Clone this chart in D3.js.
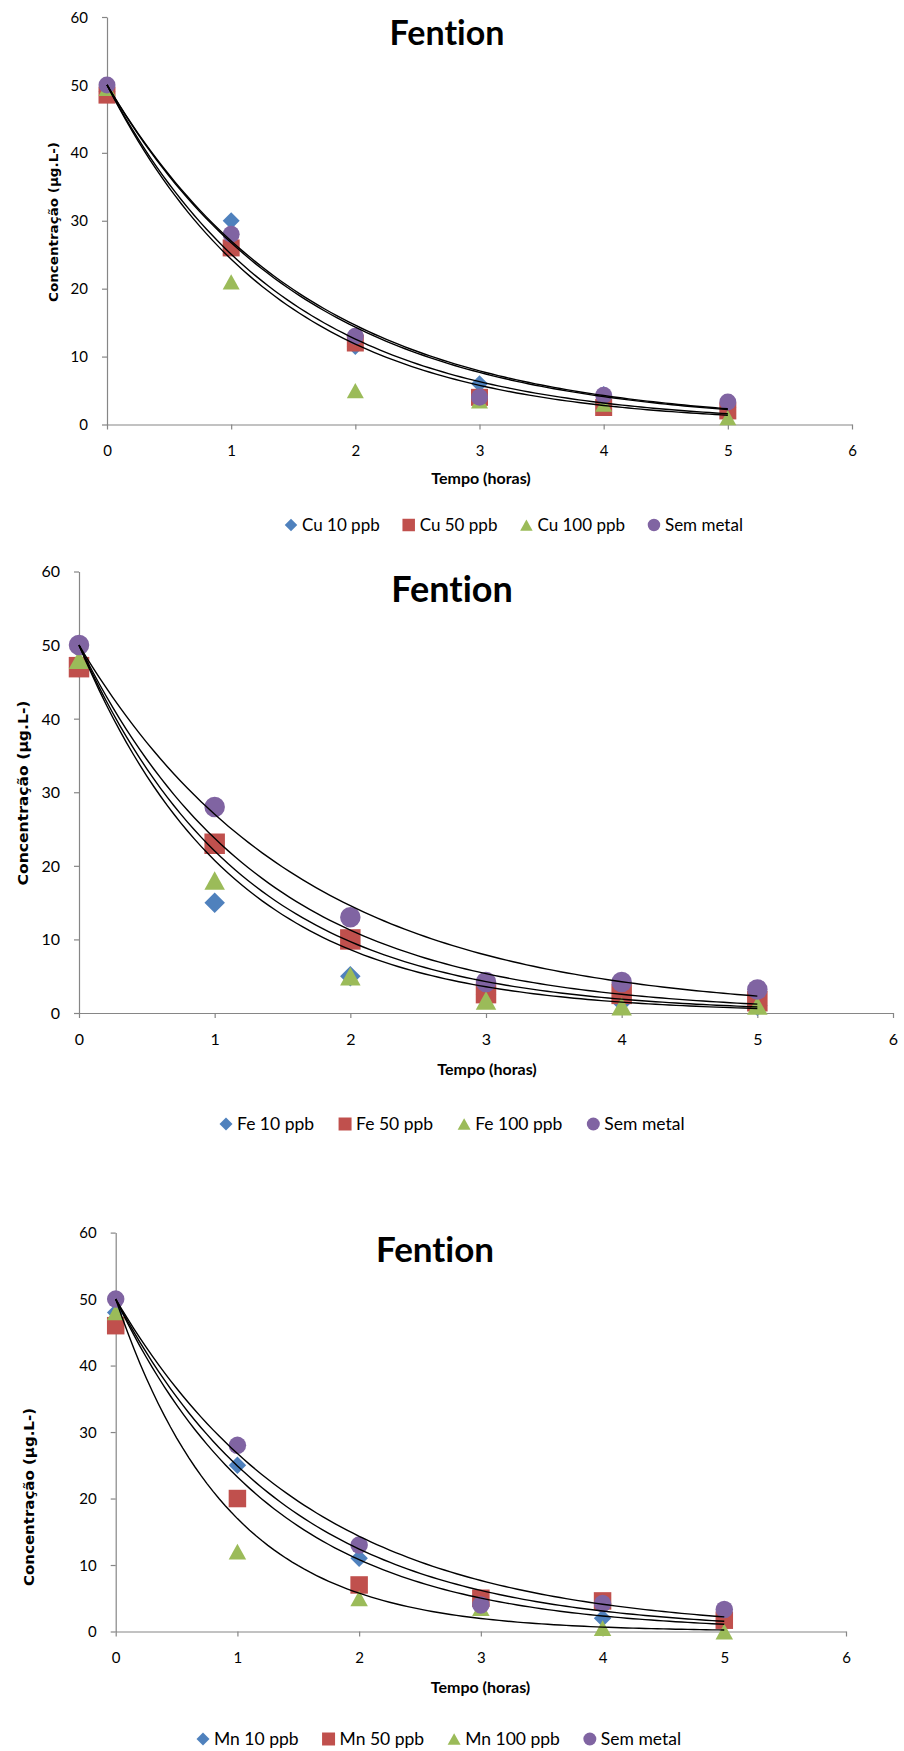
<!DOCTYPE html>
<html><head><meta charset="utf-8">
<script src="https://cdn.jsdelivr.net/npm/d3@7"></script>
<style>body{margin:0;background:#fff}svg{display:block}text{font-variant-ligatures:none;font-feature-settings:"liga" 0}</style>
</head><body><svg id="c" width="904" height="1751"></svg>
<script>
// ---------- data ----------
const times = [0, 1, 2, 3, 4, 5];
const xTicks = [0, 1, 2, 3, 4, 5, 6];
const yTicks = [0, 10, 20, 30, 40, 50, 60];
const chartTitle = "Fention";
const xTitle = "Tempo (horas)";
const yTitle = "Concentração (µg.L-)";

// Cu chart
const cuNames = ["Cu 10 ppb", "Cu 50 ppb", "Cu 100 ppb", "Sem metal"];
const cu10 = [49, 30, 11.5, 6, 4.4, 2.5];
const cu50 = [48.5, 26, 12, 4, 2.5, 2];
const cu100 = [49.5, 21, 5, 3.5, 3, 1];
const cuSem = [50, 28, 13, 4, 4.3, 3.3];
const cuTrendK = [0.625, 0.69, 0.72, 0.615];   // exponential trendline rates (y = 50·e^(−k·t))

// Fe chart
const feNames = ["Fe 10 ppb", "Fe 50 ppb", "Fe 100 ppb", "Sem metal"];
const fe10 = [47, 15, 5, 2.5, 1.5, 1];
const fe50 = [47, 23, 10, 2.7, 2.6, 1.6];
const fe100 = [48, 18, 5, 1.7, 0.9, 1];
const feSem = [50, 28, 13, 4.2, 4.2, 3.2];
const feTrendK = [0.88, 0.745, 0.82, 0.616];

// Mn chart
const mnNames = ["Mn 10 ppb", "Mn 50 ppb", "Mn 100 ppb", "Sem metal"];
const mn10 = [48, 25, 11, 4, 2, 1.5];
const mn50 = [46, 20, 7, 5, 4.6, 1.7];
const mn100 = [48, 12, 5, 3.5, 0.5, 0];
const mnSem = [50, 28, 13, 4, 4.2, 3.3];
const mnTrendK = [0.697, 0.766, 1.08, 0.625];
const trendStart = 50;

const colors = ["#4F81BD", "#C0504D", "#9BBB59", "#8064A2"];
const shapes = ["diamond", "square", "triangle", "circle"];

// ---------- layout ----------
const layouts = [
  {x0:107, x1:852, yTop:17, yBot:424.5, titleX:447, titleY:45, titleSize:34,
   tickSize:15, xTitleX:481, xTitleY:478, legY:525, legX:291, legFont:17, legGap:29,
   yLabX:54, yLabY:222, yLabLen:160, yLabSize:12.5, marker:17, legMarker:12.5},
  {x0:79, x1:893, yTop:571.5, yBot:1013, titleX:452, titleY:601.5, titleSize:36,
   tickSize:16, xTitleX:487, xTitleY:1069, legY:1124, legX:226, legFont:17.5, legGap:31,
   yLabX:22.5, yLabY:793, yLabLen:185, yLabSize:14.5, marker:20.5, legMarker:13},
  {x0:115.7, x1:846, yTop:1232.6, yBot:1631.5, titleX:435, titleY:1261.5, titleSize:35,
   tickSize:15, xTitleX:480.5, xTitleY:1687, legY:1739, legX:203, legFont:17.5, legGap:30,
   yLabX:29, yLabY:1497, yLabLen:178, yLabSize:14, marker:17.5, legMarker:13}
];

const svg = d3.select("#c");

function markerPath(shape, cx, cy, s) {
  const h = s / 2;
  if (shape === "diamond") return `M${cx},${cy-h}L${cx+h},${cy}L${cx},${cy+h}L${cx-h},${cy}Z`;
  if (shape === "square") return `M${cx-h},${cy-h}h${s}v${s}h${-s}Z`;
  if (shape === "triangle") { const th = s*0.9; return `M${cx},${cy-th/2}L${cx+h},${cy+th/2}L${cx-h},${cy+th/2}Z`; }
  return `M${cx-h},${cy}a${h},${h} 0 1,0 ${s},0a${h},${h} 0 1,0 ${-s},0Z`;
}

function drawChart(L, names, series, ks) {
  const g = svg.append("g");
  const x = d3.scaleLinear().domain([0, 6]).range([L.x0, L.x1]);
  const y = d3.scaleLinear().domain([0, 60]).range([L.yBot, L.yTop]);

  const xa = g.append("g").attr("transform", `translate(0,${L.yBot})`)
    .call(d3.axisBottom(x).tickValues(xTicks).tickSize(5).tickSizeOuter(0).tickFormat(d3.format("d")));
  xa.selectAll("text").attr("y", 26).attr("dy", "0.35em");
  const ya = g.append("g").attr("transform", `translate(${L.x0},0)`)
    .call(d3.axisLeft(y).tickValues(yTicks).tickSize(5).tickSizeOuter(0).tickFormat(d3.format("d")));
  ya.selectAll("text").attr("x", -19).attr("dy", "0.34em");
  [xa, ya].forEach(a => {
    a.select(".domain").attr("stroke", "#868686").attr("stroke-width", 1.2);
    a.selectAll(".tick line").attr("stroke", "#868686").attr("stroke-width", 1.2);
    a.selectAll("text").attr("fill", "#000").style("font-family", "Lato, sans-serif").style("font-size", L.tickSize + "px");
  });

  // markers
  series.forEach((vals, i) => {
    g.append("g").selectAll("path").data(vals).join("path")
      .attr("d", (v, j) => markerPath(shapes[i], x(times[j]), y(v), L.marker))
      .attr("fill", colors[i]);
  });

  // trendlines
  const line = d3.line().x(d => x(d[0])).y(d => y(d[1]));
  const ts = d3.range(0, 5.0001, 0.05);
  ks.forEach(k => {
    g.append("path").datum(ts.map(t => [t, trendStart * Math.exp(-k * t)]))
      .attr("d", line).attr("fill", "none").attr("stroke", "#000").attr("stroke-width", 1.4);
  });

  // title
  g.append("text").attr("x", L.titleX).attr("y", L.titleY).attr("text-anchor", "middle")
    .style("font-family", "Lato, sans-serif").style("font-weight", "bold").style("font-size", L.titleSize + "px")
    .text(chartTitle);
  // x title
  g.append("text").attr("x", L.xTitleX).attr("y", L.xTitleY).attr("dy", "0.35em").attr("text-anchor", "middle")
    .style("font-family", "Lato, sans-serif").style("font-weight", "bold").style("font-size", "16px")
    .text(xTitle);
  // y title
  g.append("text").attr("transform", `translate(${L.yLabX},${L.yLabY}) rotate(-90)`)
    .attr("text-anchor", "middle").attr("dy", "0.35em")
    .attr("textLength", L.yLabLen).attr("lengthAdjust", "spacingAndGlyphs")
    .style("font-family", "'DejaVu Sans', sans-serif").style("font-weight", "bold").style("font-size", L.yLabSize + "px")
    .text(yTitle);

  // legend
  let cx = L.legX;
  names.forEach((n, i) => {
    g.append("path").attr("d", markerPath(shapes[i], cx, L.legY, L.legMarker)).attr("fill", colors[i]);
    const t = g.append("text").attr("x", cx + 11).attr("y", L.legY).attr("dy", "0.35em")
      .style("font-family", "Lato, sans-serif").style("font-size", L.legFont + "px").text(n);
    cx = cx + 11 + t.node().getComputedTextLength() + L.legGap;
  });
}

drawChart(layouts[0], cuNames, [cu10, cu50, cu100, cuSem], cuTrendK);
drawChart(layouts[1], feNames, [fe10, fe50, fe100, feSem], feTrendK);
drawChart(layouts[2], mnNames, [mn10, mn50, mn100, mnSem], mnTrendK);
</script>
</body></html>
